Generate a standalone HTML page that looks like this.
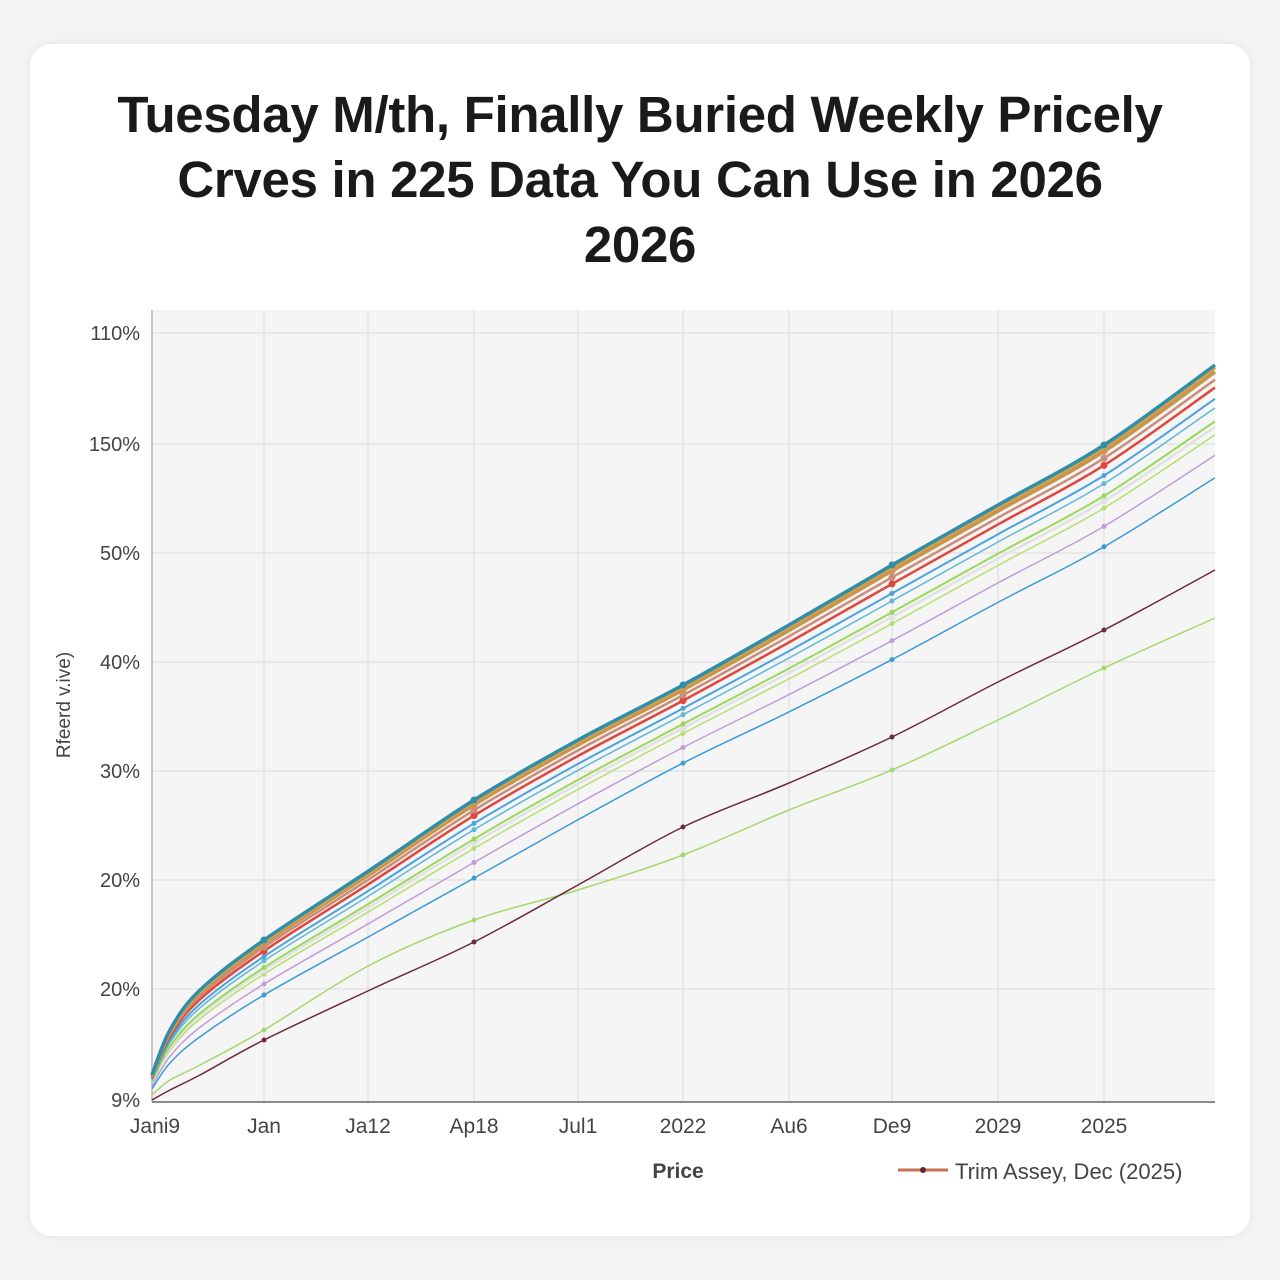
<!DOCTYPE html><html><head><style>
body{margin:0;width:1280px;height:1280px;background:#f3f3f3;font-family:"Liberation Sans",sans-serif;overflow:hidden}
.card{position:absolute;left:30px;top:44px;width:1220px;height:1192px;background:#fff;border-radius:22px;box-shadow:0 0 8px rgba(0,0,0,.06)}
h1{position:absolute;left:0;top:82px;width:1280px;margin:0;text-align:center;font-size:51px;line-height:65px;font-weight:bold;color:#1a1a1a;letter-spacing:-0.3px}
</style></head><body>
<div class="card"></div>
<h1>Tuesday M/th, Finally Buried Weekly Pricely<br>Crves in 225 Data You Can Use in 2026<br>2026</h1>
<svg id="s" width="1280" height="1280" style="position:absolute;left:0;top:0" font-family="Liberation Sans, sans-serif"></svg>
<script>
const s=document.getElementById('s');let h='';
h+='<rect x="152" y="310" width="1063" height="792" fill="#f5f5f6"/>';
const xs=[152,264,368,474,578,683,789,892,998,1104];
xs.forEach(x=>h+=`<line x1="${x}" y1="310" x2="${x}" y2="1102" stroke="#e4e4e4" stroke-width="1.5"/>`);
const ys=[333,444,553,662,771,880,989];
ys.forEach(y=>h+=`<line x1="152" y1="${y}" x2="1215" y2="${y}" stroke="#e4e4e4" stroke-width="1.5"/>`);
h+='<line x1="152" y1="310" x2="152" y2="1102" stroke="#bbb" stroke-width="1.5"/><line x1="152" y1="1102" x2="1215" y2="1102" stroke="#666" stroke-width="1.5"/>';
const yl=['110%','150%','50%','40%','30%','20%','20%','9%'],yy=[333,444,553,662,771,880,989,1100];
yl.forEach((t,i)=>h+=`<text x="140" y="${yy[i]+7}" text-anchor="end" font-size="20" fill="#444">${t}</text>`);
const xl=['Jani9','Jan','Ja12','Ap18','Jul1','2022','Au6','De9','2029','2025'];
xl.forEach((t,i)=>h+=`<text x="${xs[i]+(i==0?3:0)}" y="1133" text-anchor="middle" font-size="21" fill="#444">${t}</text>`);
h+='<text x="678" y="1178" text-anchor="middle" font-size="21" font-weight="bold" fill="#444">Price</text>';
h+='<text transform="translate(70,705) rotate(-90)" text-anchor="middle" font-size="19" fill="#444">Rfeerd v.ive)</text>';
h+='<line x1="898" y1="1170" x2="948" y2="1170" stroke="#c87050" stroke-width="3"/><circle cx="923" cy="1170" r="3" fill="#5a2a30"/>';
h+='<text x="955" y="1179" font-size="22" fill="#444">Trim Assey, Dec (2025)</text>';
const X=[152,170,200,264,370,474,578,683,789,892,998,1104,1215];
const T=[1075,1030,990,940,870,800,740,685,625,565,505,445,365];
const M=[1100,1090,1075,1040,990,942,885,827,783,737,682,630,570];
const G=[1095,1080,1065,1030,965,920,890,855,810,770,720,668,618];
function smooth(P){let d=`M${X[0]},${P[0]}`;for(let i=0;i<X.length-1;i++){const p0=[X[Math.max(i-1,0)],P[Math.max(i-1,0)]],p1=[X[i],P[i]],p2=[X[i+1],P[i+1]],p3=[X[Math.min(i+2,X.length-1)],P[Math.min(i+2,X.length-1)]];
d+=` C${p1[0]+(p2[0]-p0[0])/6},${p1[1]+(p2[1]-p0[1])/6} ${p2[0]-(p3[0]-p1[0])/6},${p2[1]-(p3[1]-p1[1])/6} ${p2[0]},${p2[1]}`;}return d;}
function path(P,c,w){h+=`<path d="${smooth(P)}" fill="none" stroke="${c}" stroke-width="${w}" stroke-linejoin="round"/>`;
for(let i=3;i<X.length;i+=2)h+=`<circle cx="${X[i]}" cy="${P[i]}" r="${w>2?3.5:2.5}" fill="${c}"/>`;}
const B=T.map((t,i)=>t+0.55*(M[i]-t));
path(G,'#a5d86a',1.5);path(M,'#6a2b3a',1.5);
const cs=[[1,'#3a9bd5',1.5],[0.8,'#c49ad8',1.5],[0.62,'#b7de73',1.5],[0.55,'#e2e2e2',2.5],[0.5,'#9ad85a',2],[0.38,'#5fb8d9',1.5],[0.3,'#4aa3dc',2],[0.2,'#e0463c',2.5],[0.13,'#c98d7a',2.5],[0.06,'#c9954a',4],[0.02,'#d7a050',4],[0,'#2f8ea8',3.5]];
cs.forEach(([f,c,w])=>path(T.map((t,i)=>t+f*(B[i]-t)),c,w));
s.innerHTML=h;
</script></body></html>
